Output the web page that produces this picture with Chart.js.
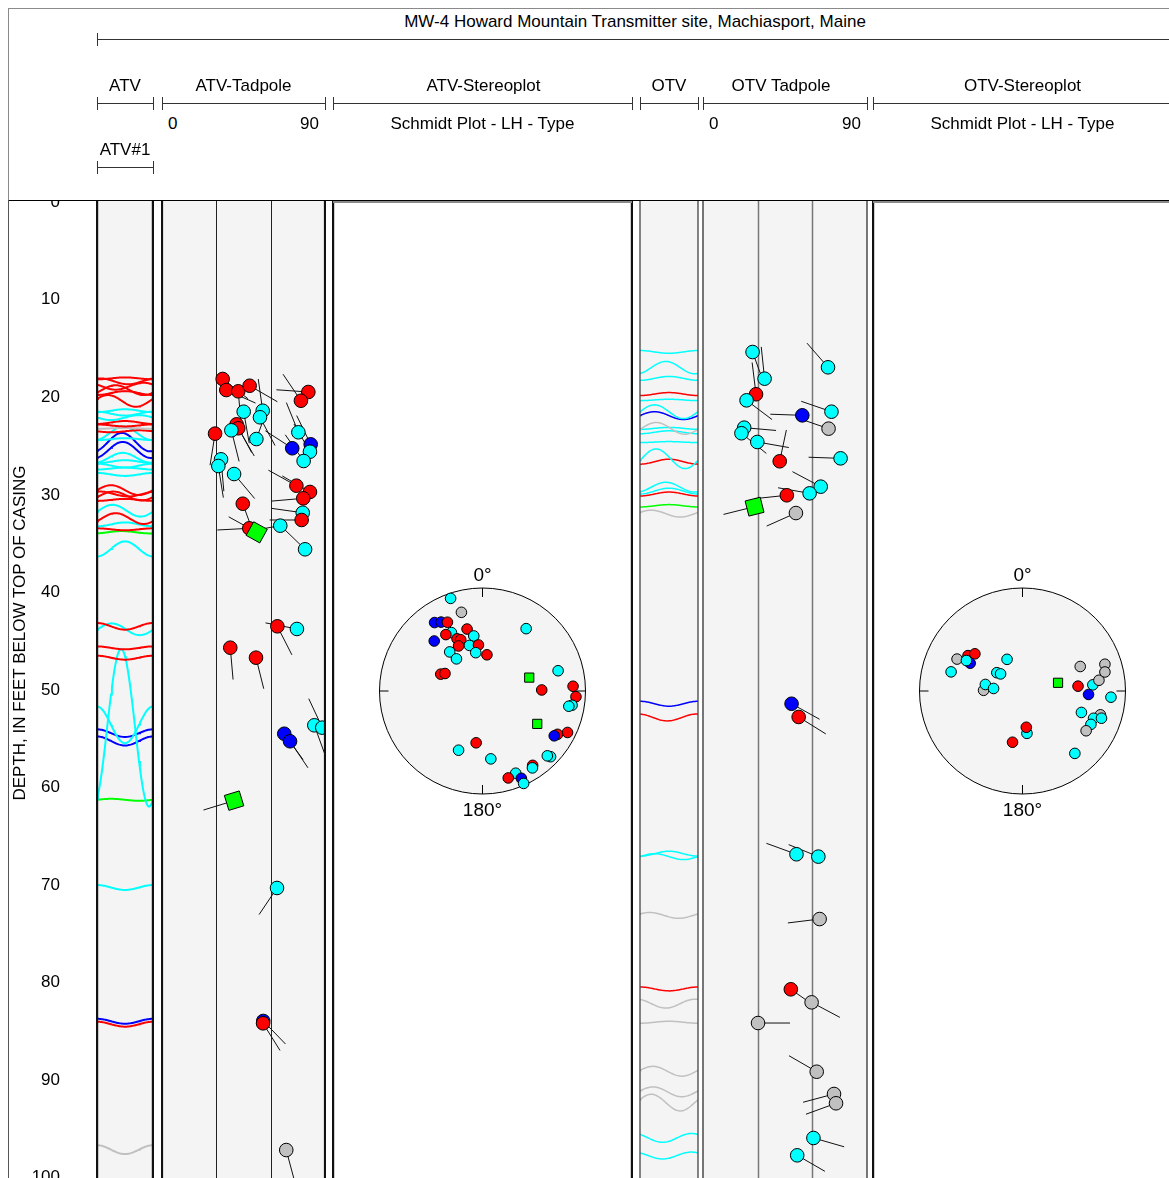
<!DOCTYPE html>
<html>
<head>
<meta charset="utf-8">
<title>MW-4 Howard Mountain Transmitter site, Machiasport, Maine</title>
<script src="https://cdn.jsdelivr.net/npm/chart.js@4.4.1/dist/chart.umd.min.js"></script>
<style>
  html, body { margin: 0; padding: 0; background: #fff; }
  body { width: 1169px; height: 1178px; overflow: hidden; position: relative;
         font-family: "Liberation Sans", Arial, sans-serif; }
  canvas.track { position: absolute; top: 190px; z-index: 1; }
  #header { position: absolute; left: 8px; top: 8px; width: 1200px; height: 193px; box-sizing: border-box;
            border-top: 1px solid #8a8a8a; border-left: 1px solid #8a8a8a; border-bottom: 1px solid #000;
            background: #fff; z-index: 5; }
  .lbl { position: absolute; font-size: 17px; line-height: 20px; white-space: nowrap; color: #000; z-index: 6; }
  .rule { position: absolute; background: #333; z-index: 6; }
  #frameLeft { position: absolute; left: 8px; top: 200px; width: 1px; height: 990px; background: #555; z-index: 6; }
  #depthTitle { position: absolute; width: 420px; left: -190px; top: 623px; text-align: center;
                font-size: 17px; line-height: 20px; transform: rotate(-90deg); z-index: 6; }
</style>
</head>
<body>
<div id="header"></div>
<div id="frameLeft"></div>
<div id="depthTitle">DEPTH, IN FEET BELOW TOP OF CASING</div>

<script>
// ---------------------------------------------------------------------------
// Log data
// ---------------------------------------------------------------------------
const TITLE = 'MW-4 Howard Mountain Transmitter site, Machiasport, Maine';
const depthTicks = { min: 0, max: 100, step: 10 };

// feature classes -> colours
const classColors = { C: '#00ffff', R: '#ff0000', B: '#0000ff', G: '#00ff00', S: '#c0c0c0' };

// ATV (acoustic televiewer) picks: depth (ft), dip (deg), dip azimuth (deg), class
const atvDepth   = [18.16,19.29,19.42,18.85,19.49,20.38,21.5,21.4,22.07,22.79,23.19,23.4,23.74,24.29,23.6,25.23,24.83,25.58,26.53,26.36,27.04,27.86,30.89,29.05,29.69,30.34,31.81,32.55,33.4,33.81,33.13,35.54,43.4,43.67,45.58,46.6,53.5,53.74,54.36,55.13,61.19,70.1,83.67,83.91,96.84];
const atvDip     = [33.5,35.5,42.1,48.4,80.8,76.7,45.1,55.6,54.1,41.2,42.1,38.3,29.3,52.1,75.3,71.9,82.1,81.7,78.2,32.6,31.1,39.8,44.6,74.2,81.7,78.0,77.7,77.1,48.2,52.3,65.3,79.0,63.7,74.5,37.7,51.9,84.1,88.5,67.5,70.7,39.8,63.5,55.9,55.8,68.6];
const atvAzimuth = [128,114,175,120,274,326,170,352,152,152,150,166,189,20,338,303,334,330,325,175,171,140,160,299,300,265,278,270,267,299,260,314,153,281,175,166,160,335,144,146,253,214,136,148,165];
const atvClass   = ['R','R','R','R','R','R','C','C','C','R','R','C','R','C','C','B','B','C','C','C','C','C','R','R','R','R','C','R','R','G','C','C','R','C','R','R','C','C','B','B','G','C','B','R','S'];

// ATV image: traces of planes on the borehole wall (depth, half-height ft, azimuth of low point, class)
const atvTraceDepth = [18.1,18.4,18.9,19.3,19.6,20.4,21.4,21.7,22.1,22.6,22.9,23.2,23.5,23.7,24.3,24.6,25.4,26.2,26.6,27.0,27.3,27.9,29.5,29.9,30.1,30.5,31.6,32.4,33.0,33.5,33.8,35.5,43.4,43.7,45.6,46.6,53.75,53.45,54.3,55.1,61.1,70.05,83.7,84.0,96.8];
const atvTraceAmp   = [0.1,0.3,0.35,0.5,0.2,0.6,0.15,0.2,0.25,0.15,0.1,0.05,0.1,0.68,0.1,0.94,0.82,0.5,0.15,0.2,0.1,0.15,0.5,0.25,0.45,0.1,0.6,0.55,0.2,0.1,0.12,0.77,0.34,0.6,0.15,0.2,8.05,1.87,0.39,0.46,0.1,0.25,0.25,0.25,0.45];
const atvTracePhase = [0,200,120,300,0,250,0,180,90,0,180,0,90,350,0,340,345,345,0,180,0,180,270,200,285,0,280,300,0,180,340,0,180,275,180,180,335,180,180,180,270,180,180,180,180];
const atvTraceClass = ['R','R','R','R','R','R','C','C','C','R','R','S','R','C','C','B','B','C','C','C','C','C','R','R','R','R','C','R','C','R','G','C','R','C','R','R','C','C','B','B','G','C','B','R','S'];

// ATV stereonet: dip azimuth, dip, class
const atvNetAzimuth = [161,165,145,149,153,166,152,147,136,171,154,157,164,175,152,140,170,187,141,112,115,215,255,254,269,267,273.5,279,280,301,296,300,302,7,22,353,314,315,326,327,338,343.5,336,336];
const atvNetDip     = [84.5,68,70,67,64,52,54,55,57,45,47,45,38,37,41,41,31,29,33,36,33,63,65,39,48,77,80,77,74,52,81,73,71,42,52,56,81,78,76,78,75,77,82,88];
const atvNetClass   = ['C','S','B','B','R','R','C','R','B','C','R','R','C','R','R','C','C','R','C','R','R','C','C','G','R','R','R','C','C','G','R','R','B','R','C','C','C','C','R','C','C','R','B','C'];

// OTV (optical televiewer) picks
const otvDepth   = [15.41,18.13,19.72,16.97,20.34,21.87,21.5,23.23,23.13,23.7,24.59,26.56,26.26,29.15,29.83,30.03,31.19,31.84,51.3,52.65,66.66,66.9,73.27,80.44,81.77,83.88,88.85,91.12,92.07,95.61,97.38];
const otvDip     = [27.2,33.8,29.1,68.6,23.9,54.5,70.5,68.9,22.6,21.1,29.8,42.1,75.5,64.6,58.5,46.0,28.3,51.0,48.6,52.5,51.3,63.3,64.0,48.2,59.6,30.2,62.4,71.9,73.0,60.6,51.7];
const otvAzimuth = [160,354,353,319,127,272,289,289,95,129,100,12,272,298,280,264,256,246,119,122,290,292,263,125,118,90,300,255,250,106,120];
const otvClass   = ['C','C','R','C','C','B','C','S','C','C','C','R','C','C','C','R','G','S','B','R','C','C','S','R','S','S','S','S','S','C','C'];

// OTV image traces
const otvTraceDepth = [15.4,17.0,18.1,19.7,20.3,21.5,21.9,23.2,23.2,23.6,24.6,26.3,26.6,29.2,29.6,29.9,31.1,31.9,51.3,52.7,66.6,66.9,72.9,80.4,81.9,83.8,88.8,90.9,92.0,95.6,97.4];
const otvTraceAmp   = [0.14,0.63,0.2,0.15,0.07,0.7,0.4,0.6,0.1,0.15,0.05,1.0,0.25,0.5,0.3,0.2,0.12,0.35,0.25,0.35,0.25,0.3,0.3,0.2,0.45,0.1,0.5,0.5,0.85,0.45,0.35];
const otvTracePhase = [180,340,0,0,0,270,270,280,0,0,0,280,0,340,0,0,0,250,180,170,0,270,240,180,160,0,260,260,250,140,140];
const otvTraceClass = ['C','C','C','R','C','C','B','S','C','C','C','C','R','C','C','R','G','S','B','R','C','C','S','R','S','S','S','S','S','C','C'];

// OTV stereonet
const otvNetAzimuth = [116,123,128,118,118.5,105,154,125.5,128,91,100,95,257,247,265,265,262,252,257,273,274,290,287,291,289,296,302,354,354,11,320];
const otvNetDip     = [60,53,49,48,52,61,28,25,22,31,30,23,29,51,45,58,64,73,71,54,75,51,68,63,70,63,62,34,29,42,68];
const otvNetClass   = ['S','R','R','B','C','C','C','C','C','S','C','C','G','S','R','C','S','S','S','B','C','C','S','C','C','C','S','C','R','R','C'];

// ---------------------------------------------------------------------------
// Layout
// ---------------------------------------------------------------------------
const FRAME = { top: 190, height: 1000, padTop: 11, padBottom: 9 };
const AXIS = { right: 60 };
const TRACK = {
  atvImage:   { left: 97,  right: 153 },
  atvTadpole: { left: 162, right: 325 },
  atvNet:     { left: 333, right: 632 },
  otvImage:   { left: 640, right: 698 },
  otvTadpole: { left: 703, right: 867 },
  otvNet:     { left: 873, right: 1172 }
};
const NET_RADIUS_PX = 103;
const TAIL_PX = 32;
const FONT = '"Liberation Sans", Arial, sans-serif';

Chart.defaults.font.family = FONT;
Chart.defaults.color = '#000';

// ---------------------------------------------------------------------------
// Plugins
// ---------------------------------------------------------------------------
const trackFrame = {
  id: 'trackFrame',
  beforeDraw(chart, args, o) {
    if (!o.fill) return;
    const { ctx, chartArea: a } = chart;
    ctx.save();
    ctx.fillStyle = o.fill;
    ctx.fillRect(a.left, a.top, a.right - a.left, a.bottom - a.top);
    if (o.grid) {
      ctx.strokeStyle = o.gridColor; ctx.lineWidth = o.gridWidth;
      o.grid.forEach(v => {
        const x = Math.round(chart.scales.x.getPixelForValue(v)) + 0.5;
        ctx.beginPath(); ctx.moveTo(x, a.top); ctx.lineTo(x, a.bottom); ctx.stroke();
      });
    }
    ctx.restore();
  },
  afterDraw(chart, args, o) {
    if (!o.border) return;
    const { ctx, chartArea: a } = chart;
    ctx.save();
    ctx.strokeStyle = o.border; ctx.lineWidth = o.borderWidth;
    ctx.beginPath();
    ctx.moveTo(a.left, a.top); ctx.lineTo(a.left, a.bottom);
    ctx.moveTo(a.right, a.top); ctx.lineTo(a.right, a.bottom);
    ctx.stroke();
    if (o.topLine) {
      ctx.strokeStyle = o.topLine; ctx.lineWidth = 2;
      ctx.beginPath(); ctx.moveTo(a.left, a.top + 1); ctx.lineTo(a.right, a.top + 1); ctx.stroke();
    }
    ctx.restore();
  }
};

// tails of the tadpoles point down the dip azimuth (north up)
const tadpoleTails = {
  id: 'tadpoleTails',
  beforeDatasetsDraw(chart, args, o) {
    if (!o.azimuth) return;
    const { ctx, chartArea: a } = chart;
    const meta = chart.getDatasetMeta(0);
    ctx.save();
    ctx.beginPath(); ctx.rect(a.left, a.top, a.right - a.left, a.bottom - a.top); ctx.clip();
    ctx.strokeStyle = '#111'; ctx.lineWidth = 1;
    meta.data.forEach((pt, i) => {
      const t = o.azimuth[i] * Math.PI / 180;
      ctx.beginPath();
      ctx.moveTo(pt.x, pt.y);
      ctx.lineTo(pt.x + Math.sin(t) * TAIL_PX, pt.y - Math.cos(t) * TAIL_PX);
      ctx.stroke();
    });
    ctx.restore();
  }
};

// Schmidt (equal-area) net outline
const schmidtNet = {
  id: 'schmidtNet',
  beforeDatasetsDraw(chart, args, o) {
    if (!o.enabled) return;
    const { ctx, scales: { x, y } } = chart;
    const cx = x.getPixelForValue(0), cy = y.getPixelForValue(0);
    const r = x.getPixelForValue(1) - cx;
    ctx.save();
    ctx.beginPath(); ctx.arc(cx, cy, r, 0, Math.PI * 2);
    ctx.fillStyle = '#f4f4f4'; ctx.fill();
    ctx.strokeStyle = '#000'; ctx.lineWidth = 1; ctx.stroke();
    const t = 9;
    ctx.beginPath();
    ctx.moveTo(cx, cy - r); ctx.lineTo(cx, cy - r + t);
    ctx.moveTo(cx, cy + r); ctx.lineTo(cx, cy + r - t);
    ctx.moveTo(cx - r, cy); ctx.lineTo(cx - r + t, cy);
    ctx.moveTo(cx + r, cy); ctx.lineTo(cx + r - t, cy);
    ctx.stroke();
    ctx.fillStyle = '#000';
    ctx.font = '19px ' + FONT;
    ctx.textAlign = 'center'; ctx.textBaseline = 'alphabetic';
    ctx.fillText('0°', cx, cy - r - 7);
    ctx.fillText('180°', cx, cy + r + 22);
    ctx.restore();
  }
};

Chart.register(trackFrame, tadpoleTails, schmidtNet);

// ---------------------------------------------------------------------------
// Helpers
// ---------------------------------------------------------------------------
function makeCanvas(left, width) {
  const c = document.createElement('canvas');
  c.className = 'track';
  c.width = width; c.height = FRAME.height;
  c.style.left = left + 'px';
  c.style.width = width + 'px'; c.style.height = FRAME.height + 'px';
  document.body.appendChild(c);
  return c;
}

function baseOptions(xRange, yRange, reverse, padLeft, padRight, pluginOpts) {
  return {
    responsive: false, animation: false, events: [], devicePixelRatio: 1,
    layout: { autoPadding: false,
              padding: { top: FRAME.padTop, bottom: FRAME.padBottom, left: padLeft, right: padRight } },
    plugins: Object.assign({ legend: { display: false }, tooltip: { enabled: false } }, pluginOpts),
    scales: {
      x: { type: 'linear', min: xRange[0], max: xRange[1], display: false },
      y: { type: 'linear', min: yRange[0], max: yRange[1], reverse: reverse, display: false }
    }
  };
}

// trace of a plane on the borehole wall, unrolled 0..360 degrees
function wallTrace(depth, amp, phase) {
  const pts = [];
  for (let az = 0; az <= 360; az += 6) {
    pts.push({ x: az, y: depth + amp * Math.cos((az - phase) * Math.PI / 180) });
  }
  return pts;
}

function traceDatasets(depths, amps, phases, classes, width) {
  return depths.map((d, i) => ({
    data: wallTrace(d, amps[i], phases[i]),
    showLine: true, pointRadius: 0, borderWidth: width, tension: 0,
    borderColor: classColors[classes[i]], clip: 0
  }));
}

function tadpoleDataset(depths, dips, az, classes) {
  return {
    data: depths.map((d, i) => ({ x: dips[i], y: d })),
    showLine: false, clip: 0,
    pointStyle: c => classes[c.dataIndex] === 'G' ? 'rect' : 'circle',
    pointRadius: c => classes[c.dataIndex] === 'G' ? 11 : 6.8,
    pointRotation: c => az[c.dataIndex],
    pointBackgroundColor: c => classColors[classes[c.dataIndex]],
    pointBorderColor: '#000', pointBorderWidth: 1
  };
}

// poles to planes, lower hemisphere, equal-area
function netDataset(az, dips, classes) {
  return {
    data: az.map((a, i) => {
      const trend = (a + 180) * Math.PI / 180;
      const r = Math.SQRT2 * Math.sin(dips[i] * Math.PI / 360);
      return { x: r * Math.sin(trend), y: r * Math.cos(trend) };
    }),
    showLine: false,
    pointStyle: c => classes[c.dataIndex] === 'G' ? 'rect' : 'circle',
    pointRadius: c => classes[c.dataIndex] === 'G' ? 6.5 : 5.3,
    pointBackgroundColor: c => classColors[classes[c.dataIndex]],
    pointBorderColor: '#000', pointBorderWidth: 1
  };
}

const depthRange = [depthTicks.min, depthTicks.max];

// ---------------------------------------------------------------------------
// Depth axis
// ---------------------------------------------------------------------------
(function () {
  const opts = baseOptions([0, 1], depthRange, true, 0, 1, {});
  opts.scales.y = {
    type: 'linear', position: 'left', min: depthTicks.min, max: depthTicks.max, reverse: true,
    display: true,
    grid: { display: false, drawTicks: false }, border: { display: false },
    ticks: { stepSize: depthTicks.step, padding: 2, font: { size: 17 }, color: '#000' },
    afterFit: s => { s.width = AXIS.right + 2; }
  };
  new Chart(makeCanvas(0, AXIS.right + 5), {
    type: 'scatter', data: { datasets: [{ data: [] }] }, options: opts
  });
})();

// ATV image track
(function () {
  const t = TRACK.atvImage;
  new Chart(makeCanvas(t.left - 1, t.right - t.left + 2), {
    type: 'scatter',
    data: { datasets: traceDatasets(atvTraceDepth, atvTraceAmp, atvTracePhase, atvTraceClass, 2) },
    options: baseOptions([0, 360], depthRange, true, 1, 1,
      { trackFrame: { fill: '#f4f4f4', border: '#111', borderWidth: 2.4 } })
  });
})();

// ATV tadpoles
(function () {
  const t = TRACK.atvTadpole;
  new Chart(makeCanvas(t.left - 1, t.right - t.left + 2), {
    type: 'scatter',
    data: { datasets: [tadpoleDataset(atvDepth, atvDip, atvAzimuth, atvClass)] },
    options: baseOptions([0, 90], depthRange, true, 1, 1, {
      trackFrame: { fill: '#f4f4f4', border: '#111', borderWidth: 2.2, grid: [30, 60], gridColor: '#222', gridWidth: 1 },
      tadpoleTails: { azimuth: atvAzimuth }
    })
  });
})();

function netChart(t, az, dips, classes) {
  const w = t.right - t.left, h = FRAME.height - FRAME.padTop - FRAME.padBottom;
  const hx = w / 2 / NET_RADIUS_PX, hy = h / 2 / NET_RADIUS_PX;
  new Chart(makeCanvas(t.left - 1, w + 2), {
    type: 'scatter',
    data: { datasets: [netDataset(az, dips, classes)] },
    options: baseOptions([-hx, hx], [-hy, hy], false, 1, 1, {
      trackFrame: { fill: '#ffffff', border: '#111', borderWidth: 2.4, topLine: '#8a8a8a' },
      schmidtNet: { enabled: true }
    })
  });
}

netChart(TRACK.atvNet, atvNetAzimuth, atvNetDip, atvNetClass);

// OTV image
(function () {
  const t = TRACK.otvImage;
  new Chart(makeCanvas(t.left - 1, t.right - t.left + 2), {
    type: 'scatter',
    data: { datasets: traceDatasets(otvTraceDepth, otvTraceAmp, otvTracePhase, otvTraceClass, 1.5) },
    options: baseOptions([0, 360], depthRange, true, 1, 1,
      { trackFrame: { fill: '#f4f4f4', border: '#444', borderWidth: 1.3 } })
  });
})();

// OTV tadpoles
(function () {
  const t = TRACK.otvTadpole;
  new Chart(makeCanvas(t.left - 1, t.right - t.left + 2), {
    type: 'scatter',
    data: { datasets: [tadpoleDataset(otvDepth, otvDip, otvAzimuth, otvClass)] },
    options: baseOptions([0, 90], depthRange, true, 1, 1, {
      trackFrame: { fill: '#f4f4f4', border: '#555', borderWidth: 1.6, grid: [30, 60], gridColor: '#777', gridWidth: 1.5 },
      tadpoleTails: { azimuth: otvAzimuth }
    })
  });
})();

netChart(TRACK.otvNet, otvNetAzimuth, otvNetDip, otvNetClass);

// ---------------------------------------------------------------------------
// Header
// ---------------------------------------------------------------------------
function addText(text, x, cy, align) {
  const d = document.createElement('div');
  d.className = 'lbl';
  d.textContent = text;
  d.style.top = (cy - 9) + 'px';
  if (align === 'left') { d.style.left = x + 'px'; }
  else if (align === 'right') { d.style.left = (x - 300) + 'px'; d.style.width = '300px'; d.style.textAlign = 'right'; }
  else { d.style.left = (x - 300) + 'px'; d.style.width = '600px'; d.style.textAlign = 'center'; }
  document.body.appendChild(d);
}
function addBox(x, y, w, h) {
  const d = document.createElement('div');
  d.className = 'rule';
  Object.assign(d.style, { left: x + 'px', top: y + 'px', width: w + 'px', height: h + 'px' });
  document.body.appendChild(d);
}
function addRule(x1, x2, y, tickL, tickR) {
  addBox(x1, y, x2 - x1, 1);
  if (tickL) addBox(x1, y - 6, 1, 13);
  if (tickR) addBox(x2 - 1, y - 6, 1, 13);
}

const VIEW_W = 1169;
addText(TITLE, 635, 21);
addRule(TRACK.atvImage.left, VIEW_W, 39, true, false);

const headerTracks = [
  { name: 'ATV', t: TRACK.atvImage, dx: 0 },
  { name: 'ATV-Tadpole', t: TRACK.atvTadpole, dx: 0, scale: ['0', '90'] },
  { name: 'ATV-Stereoplot', t: TRACK.atvNet, dx: 1, sub: 'Schmidt Plot - LH - Type' },
  { name: 'OTV', t: TRACK.otvImage, dx: 0 },
  { name: 'OTV Tadpole', t: TRACK.otvTadpole, dx: -4, scale: ['0', '90'] },
  { name: 'OTV-Stereoplot', t: TRACK.otvNet, dx: 0, sub: 'Schmidt Plot - LH - Type' }
];
headerTracks.forEach(h => {
  const cx = (h.t.left + h.t.right) / 2;
  addText(h.name, cx + h.dx, 85);
  const right = Math.min(h.t.right + 1, VIEW_W);
  addRule(h.t.left, right, 103, true, h.t.right < VIEW_W);
  if (h.scale) {
    addText(h.scale[0], h.t.left + 6, 123, 'left');
    addText(h.scale[1], h.t.right - 6, 123, 'right');
  }
  if (h.sub) addText(h.sub, cx, 123);
});
addText('ATV#1', (TRACK.atvImage.left + TRACK.atvImage.right) / 2, 149);
addRule(TRACK.atvImage.left, TRACK.atvImage.right + 1, 167, true, true);
</script>
</body>
</html>
